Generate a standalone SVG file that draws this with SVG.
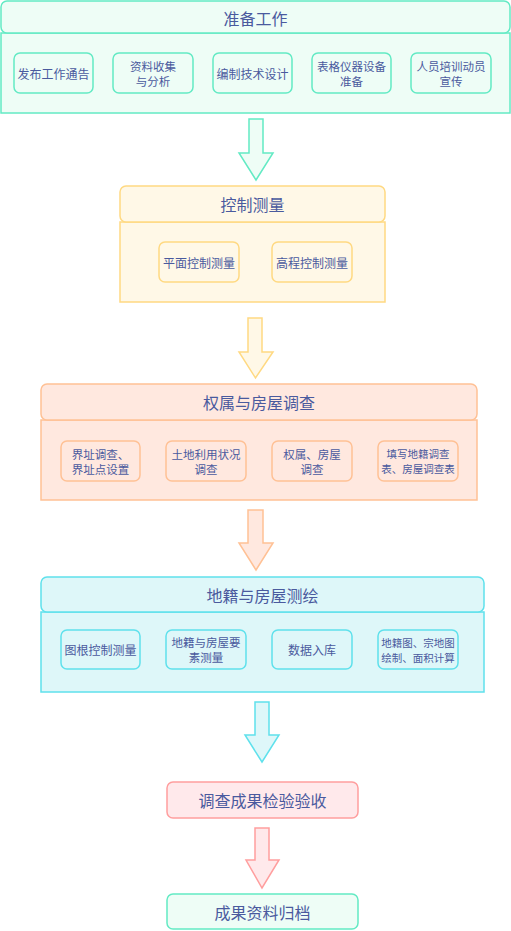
<svg xmlns="http://www.w3.org/2000/svg" width="511" height="931" viewBox="0 0 511 931">
<style>
text{font-family:"Noto Sans CJK SC","Noto Sans CJK JP",sans-serif;fill:#4a5a9e;text-anchor:middle;dominant-baseline:central}
.h{font-size:16px}
.s{font-size:12px}
.t{font-size:11.5px}
.xs{font-size:10.5px}
.g rect,.g path{fill:#eefdf6;stroke:#63eac4;stroke-width:1.5}
.y rect,.y path{fill:#fff8e7;stroke:#ffd982;stroke-width:1.5}
.o rect,.o path{fill:#ffe8df;stroke:#ffc195;stroke-width:1.5}
.c rect,.c path{fill:#def7f9;stroke:#5fe1ec;stroke-width:1.5}
.r rect,.r path{fill:#ffe9eb;stroke:#ff9e9e;stroke-width:1.5}
</style>
<rect width="511" height="931" fill="#ffffff"/>

<g id="connectors">
<path class="arrow" d="M249,119 H263 V153 H273 L256,180 L239,153 H249 Z" fill="#eefdf6" stroke="#63eac4" stroke-width="1.5"/>
<path class="arrow" d="M248,318 H262 V352 H273 L255.5,378 L239,352 H248 Z" fill="#fff8e7" stroke="#ffd982" stroke-width="1.5"/>
<path class="arrow" d="M248,510 H263 V543 H273 L256,570 L239,543 H248 Z" fill="#ffe8df" stroke="#ffc195" stroke-width="1.5"/>
<path class="arrow" d="M255,702 H269 V735 H279 L262,762 L245,735 H255 Z" fill="#def7f9" stroke="#5fe1ec" stroke-width="1.5"/>
<path class="arrow" d="M255,828 H269 V860 H279 L262,888 L246,860 H255 Z" fill="#ffe9eb" stroke="#ff9e9e" stroke-width="1.5"/>
</g>

<g id="sec1" class="g">
<rect x="1" y="33" width="509" height="80"/>
<rect x="1" y="1" width="509" height="32" rx="6"/>
<text class="h" x="255.5" y="17.5">准备工作</text>
</g>
<g id="n1a" class="g"><rect x="14" y="53" width="79" height="40" rx="6"/><text class="s" x="53.5" y="73.5">发布工作通告</text></g>
<g id="n1b" class="g"><rect x="113" y="53" width="80" height="40" rx="6"/><text class="t" x="153" y="66">资料收集</text><text class="t" x="153" y="81">与分析</text></g>
<g id="n1c" class="g"><rect x="213" y="53" width="79" height="40" rx="6"/><text class="s" x="252.5" y="73.5">编制技术设计</text></g>
<g id="n1d" class="g"><rect x="312" y="53" width="79" height="40" rx="6"/><text class="t" x="351.5" y="66">表格仪器设备</text><text class="t" x="351.5" y="81">准备</text></g>
<g id="n1e" class="g"><rect x="411" y="53" width="80" height="40" rx="6"/><text class="t" x="451" y="66">人员培训动员</text><text class="t" x="451" y="81">宣传</text></g>

<g id="sec2" class="y">
<rect x="120" y="222" width="265" height="80"/>
<rect x="120" y="186" width="265" height="36" rx="6"/>
<text class="h" x="252.5" y="204">控制测量</text>
</g>
<g id="n2a" class="y"><rect x="159" y="242" width="80" height="40" rx="6"/><text class="s" x="199" y="262">平面控制测量</text></g>
<g id="n2b" class="y"><rect x="272" y="242" width="80" height="40" rx="6"/><text class="s" x="312" y="262">高程控制测量</text></g>

<g id="sec3" class="o">
<rect x="41" y="420" width="436" height="80"/>
<rect x="41" y="384" width="436" height="36" rx="6"/>
<text class="h" x="259" y="402">权属与房屋调查</text>
</g>
<g id="n3a" class="o"><rect x="61" y="441" width="79" height="40" rx="6"/><text class="t" x="100.5" y="453.5">界址调查、</text><text class="t" x="100.5" y="468.5">界址点设置</text></g>
<g id="n3b" class="o"><rect x="166" y="441" width="80" height="40" rx="6"/><text class="t" x="206" y="453.5">土地利用状况</text><text class="t" x="206" y="468.5">调查</text></g>
<g id="n3c" class="o"><rect x="272" y="441" width="80" height="40" rx="6"/><text class="t" x="312" y="453.5">权属、房屋</text><text class="t" x="312" y="468.5">调查</text></g>
<g id="n3d" class="o"><rect x="378" y="441" width="80" height="40" rx="6"/><text class="xs" x="418" y="453.5">填写地籍调查</text><text class="xs" x="418" y="468.5">表、房屋调查表</text></g>

<g id="sec4" class="c">
<rect x="41" y="612" width="443" height="80"/>
<rect x="41" y="577" width="443" height="35" rx="6"/>
<text class="h" x="262.5" y="594.5">地籍与房屋测绘</text>
</g>
<g id="n4a" class="c"><rect x="61" y="630" width="79" height="39" rx="6"/><text class="s" x="100.5" y="649.5">图根控制测量</text></g>
<g id="n4b" class="c"><rect x="166" y="630" width="80" height="39" rx="6"/><text class="t" x="206" y="642">地籍与房屋要</text><text class="t" x="206" y="657">素测量</text></g>
<g id="n4c" class="c"><rect x="272" y="630" width="80" height="39" rx="6"/><text class="s" x="312" y="649.5">数据入库</text></g>
<g id="n4d" class="c"><rect x="378" y="630" width="80" height="39" rx="6"/><text class="xs" x="418" y="642">地籍图、宗地图</text><text class="xs" x="418" y="657">绘制、面积计算</text></g>

<g id="n5" class="r"><rect x="167" y="782" width="191" height="36" rx="6"/><text class="h" x="262.5" y="800">调查成果检验验收</text></g>
<g id="n6" class="g"><rect x="167" y="894" width="191" height="35" rx="6"/><text class="h" x="262.5" y="911.5">成果资料归档</text></g>
</svg>
